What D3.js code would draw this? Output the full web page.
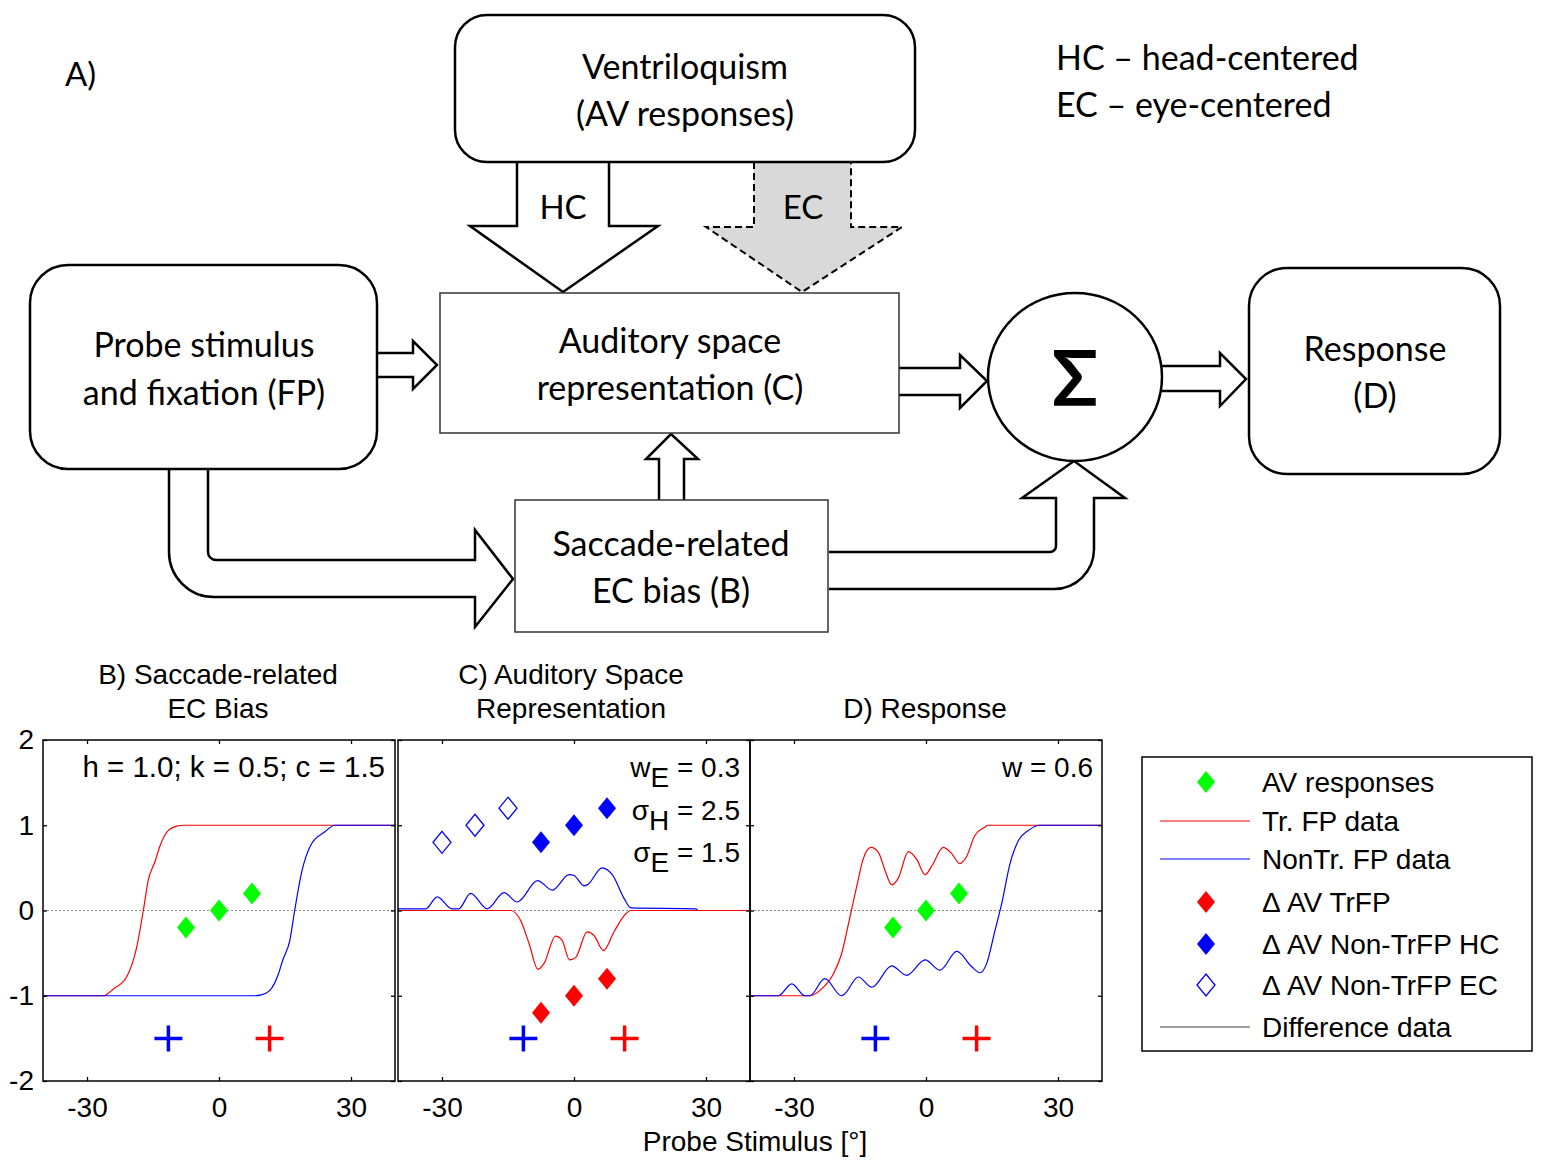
<!DOCTYPE html>
<html>
<head>
<meta charset="utf-8">
<script src="https://cdn.jsdelivr.net/npm/d3@7"></script>
<style>
  body { margin: 0; background: #fff; }
</style>
</head>
<body>
<svg id="fig" width="1562" height="1171"></svg>
<script>
// ---- values ----
var xTicks = [-30, 0, 30];
var yTicks = [-2, -1, 0, 1, 2];

// AV responses (green), repeated in B and D
var avX = [-7.5, 0, 7.5];
var avY = [-0.2, 0, 0.2];

// Delta AV markers in panel C
var hcX = [-7.5, 0, 7.5];
var hcY = [0.8, 1.0, 1.2];
var ecX = [-30, -22.5, -15];
var ecY = [0.8, 1.0, 1.2];
var trX = [-7.5, 0, 7.5];
var trY = [-1.2, -1.0, -0.8];

// fixation points (plus signs)
var fixNonTrX = -11.5;
var fixTrX = 11.5;
var fixY = -1.5;

// B) saccade-related EC bias
var biasTr = [[-40,-1],[-26.3,-1],[-24,-0.92],[-21,-0.78],[-18.7,-0.43],[-17.2,0],[-16.1,0.35],
  [-14.5,0.58],[-13.4,0.76],[-11.5,0.94],[-9.6,0.99],[-8.1,1],[40,1]];
var biasNonTr = [[-40,-1],[8.1,-1],[9.6,-0.99],[11.5,-0.94],[13.4,-0.76],[14.5,-0.58],[16.1,-0.35],
  [17.2,0],[18.7,0.43],[21,0.78],[24,0.92],[26.3,1],[40,1]];

// C) auditory space representation
var repNonTr = [[-40,0.02],[-33.7,0.02],[-31.1,0.16],[-27.7,0.02],[-26.2,0.02],[-23.5,0.2],[-19.7,0.02],
  [-15.9,0.21],[-12.9,0.1],[-12.2,0.12],[-8.3,0.35],[-4.9,0.24],[-1.1,0.42],[0,0.41],[2.3,0.29],
  [3,0.3],[6.4,0.5],[8.7,0.42],[11.4,0.14],[12.9,0.03],[27.7,0.02],[28.2,0],[40,0]];
var repTr = [[-40,0],[-14.4,0],[-12.1,-0.12],[-10.2,-0.39],[-8.2,-0.69],[-6.8,-0.62],[-4.2,-0.3],
  [-2.7,-0.35],[-1,-0.58],[0.4,-0.55],[3,-0.25],[4.5,-0.29],[6.7,-0.47],[9.1,-0.25],[11.4,-0.06],
  [12.9,0],[40,0]];

// D) response
var respTr = [[-40,-1],[-26.4,-1],[-23.7,-0.92],[-21,-0.74],[-19.2,-0.51],[-17.3,-0.08],[-15.8,0.27],
  [-14.3,0.6],[-12.5,0.74],[-10.8,0.68],[-9.3,0.47],[-7.8,0.3],[-6.3,0.38],[-4,0.69],[-2.1,0.6],
  [-0.2,0.42],[1.3,0.52],[3.9,0.74],[5.8,0.67],[7.7,0.55],[9.2,0.63],[11.1,0.88],[13.4,0.98],
  [14,1],[40,1]];
var respNonTr = [[-40,-1],[-33.6,-1],[-30.5,-0.86],[-27.5,-1],[-26.4,-1],[-23,-0.8],[-19.2,-1],
  [-18.5,-0.98],[-15.4,-0.78],[-12.3,-0.9],[-7.8,-0.65],[-4.4,-0.76],[-0.2,-0.58],[3.2,-0.7],
  [7,-0.48],[10.4,-0.66],[12.3,-0.73],[13.8,-0.62],[15.7,-0.23],[17.2,0.08],[19.1,0.55],[21,0.82],
  [23.3,0.94],[25.9,1],[40,1]];

var legendLabels = ["AV responses", "Tr. FP data", "NonTr. FP data", "\u0394 AV TrFP",
  "\u0394 AV Non-TrFP HC", "\u0394 AV Non-TrFP EC", "Difference data"];

// ---- drawing ----
var svg = d3.select("#fig");
var diagFont = "Lato, 'Open Sans', sans-serif";
var plotFont = "'Liberation Sans', Arial, sans-serif";

function addText(g, x, y, str, size, anchor, family) {
    return g.append("text")
        .attr("x", x).attr("y", y)
        .attr("font-family", family || diagFont)
        .attr("font-size", size)
        .attr("text-anchor", anchor || "middle")
        .attr("fill", "#000")
        .text(str);
}

// ===== A) block diagram =====
var diag = svg.append("g");

// block arrows first, boxes go over their open ends
var arrowStyle = function(sel) {
    return sel.attr("fill", "#fff").attr("stroke", "#000")
        .attr("stroke-width", 2.5).attr("stroke-linejoin", "miter");
};

// probe -> saccade bias (bent)
diag.append("path").call(arrowStyle)
    .attr("d", "M169,468 L169,552 A45,45 0 0 0 214,597 L475,597 L475,627 L513,579 L475,530 L475,560 " +
               "L216,560 A8,8 0 0 1 208,552 L208,468");
// saccade bias -> sum (bent)
diag.append("path").call(arrowStyle)
    .attr("d", "M829,552 L1050,552 A6,6 0 0 0 1056,546 L1056,498 L1022,498 L1074,461 L1125,498 " +
               "L1094,498 L1094,549 A40,40 0 0 1 1054,589 L829,589");
// probe -> auditory space
diag.append("path").call(arrowStyle)
    .attr("d", "M377,353 L413,353 L413,341 L437,365 L413,389 L413,377 L377,377");
// auditory space -> sum
diag.append("path").call(arrowStyle)
    .attr("d", "M899,368 L960,368 L960,355 L987,381 L960,408 L960,395 L899,395");
// sum -> response
diag.append("path").call(arrowStyle)
    .attr("d", "M1162,366 L1220,366 L1220,353 L1246,379 L1220,406 L1220,391 L1162,391");
// saccade bias -> auditory space (up)
diag.append("path").call(arrowStyle)
    .attr("d", "M659,500 L659,459 L646,459 L671,434 L698,459 L684,459 L684,500");
// HC arrow
diag.append("path").call(arrowStyle)
    .attr("d", "M517,162 L517,226 L470,226 L563,292 L658,226 L609,226 L609,162");
// EC arrow, dashed and grey
diag.append("path")
    .attr("d", "M754,162 L754,227 L706,227 L802,292 L902,227 L851,227 L851,162")
    .attr("fill", "#d9d9d9").attr("stroke", "#000")
    .attr("stroke-width", 2).attr("stroke-dasharray", "7,4");

// rounded boxes
var roundBox = function(x, y, w, h, r) {
    diag.append("rect")
        .attr("x", x).attr("y", y).attr("width", w).attr("height", h)
        .attr("rx", r).attr("ry", r)
        .attr("fill", "#fff").attr("stroke", "#000").attr("stroke-width", 2.5);
};
roundBox(455, 15, 460, 147, 32);     // ventriloquism
roundBox(30, 265, 347, 204, 38);     // probe stimulus
roundBox(1249, 268, 251, 206, 38);   // response

// square boxes
var squareBox = function(x, y, w, h) {
    diag.append("rect")
        .attr("x", x).attr("y", y).attr("width", w).attr("height", h)
        .attr("fill", "#fff").attr("stroke", "#333").attr("stroke-width", 1.5);
};
squareBox(440, 293, 459, 140);  // auditory space
squareBox(515, 500, 313, 132);  // saccade bias

// summation node
diag.append("ellipse")
    .attr("cx", 1075).attr("cy", 377).attr("rx", 87).attr("ry", 84)
    .attr("fill", "#fff").attr("stroke", "#000").attr("stroke-width", 2.5);
addText(diag, 1075, 406, "\u03A3", 76).attr("font-weight", "bold");

// diagram texts
addText(diag, 65, 86, "A)", 33, "start");
addText(diag, 685, 79, "Ventriloquism", 34);
addText(diag, 685, 126, "(AV responses)", 34);
addText(diag, 563, 219, "HC", 33);
addText(diag, 803, 219, "EC", 33);
addText(diag, 1056, 70, "HC \u2013 head-centered", 34, "start");
addText(diag, 1056, 117, "EC \u2013 eye-centered", 34, "start");
addText(diag, 204, 357, "Probe stimulus", 34);
addText(diag, 204, 405, "and fixation (FP)", 34);
addText(diag, 670, 353, "Auditory space", 34);
addText(diag, 670, 400, "representation (C)", 34);
addText(diag, 671, 556, "Saccade-related", 34);
addText(diag, 671, 603, "EC bias (B)", 34);
addText(diag, 1375, 361, "Response", 34);
addText(diag, 1375, 408, "(D)", 34);

// ===== B-D) model panels =====
var panelTop = 740, panelBottom = 1081, panelW = 352;
var y = d3.scaleLinear().domain([-2, 2]).range([panelBottom, panelTop]);
var diamond = "M0,-11 L9,0 L0,11 L-9,0 Z";
var fs = 28;
var plainNum = function(d) { return String(d); };

var panels = [
    { left: 43,  title: ["B) Saccade-related", "EC Bias"], tx: 218,
      lines: [[biasTr, "#ff0000"], [biasNonTr, "#0000ff"]], av: true, yLabels: true },
    { left: 398, title: ["C) Auditory Space", "Representation"], tx: 571,
      lines: [[repNonTr, "#0000ff"], [repTr, "#ff0000"]], av: false, yLabels: false },
    { left: 750, title: ["", "D) Response"], tx: 925,
      lines: [[respTr, "#ff0000"], [respNonTr, "#0000ff"]], av: true, yLabels: false }
];

panels.forEach(function(p, idx) {
    var g = svg.append("g");
    var x = d3.scaleLinear().domain([-40, 40]).range([p.left, p.left + panelW]);

    // titles
    addText(g, p.tx, 684, p.title[0], fs, "middle", plotFont);
    addText(g, p.tx, 718, p.title[1], fs, "middle", plotFont);

    // zero reference line
    g.append("line")
        .attr("x1", x(-40)).attr("x2", x(40)).attr("y1", y(0)).attr("y2", y(0))
        .attr("stroke", "#808080").attr("stroke-width", 0.9).attr("stroke-dasharray", "2,2");

    // curves
    var line = d3.line().x(function(d) { return x(d[0]); }).y(function(d) { return y(d[1]); })
        .curve(d3.curveMonotoneX);
    p.lines.forEach(function(l) {
        g.append("path").datum(l[0]).attr("d", line)
            .attr("fill", "none").attr("stroke", l[1]).attr("stroke-width", 1.2);
    });

    // markers
    function diamonds(xs, ys, fill, stroke) {
        g.selectAll(null).data(xs).enter().append("path")
            .attr("d", diamond)
            .attr("transform", function(d, i) { return "translate(" + x(d) + "," + y(ys[i]) + ")"; })
            .attr("fill", fill).attr("stroke", stroke).attr("stroke-width", 1.3);
    }
    if (p.av) diamonds(avX, avY, "#00ff00", "none");
    if (idx === 1) {
        diamonds(ecX, ecY, "#fff", "#0000ff");
        diamonds(hcX, hcY, "#0000ff", "none");
        diamonds(trX, trY, "#ff0000", "none");
    }
    [[fixNonTrX, "#0000ff"], [fixTrX, "#ff0000"]].forEach(function(f) {
        var cx = x(f[0]), cy = y(fixY);
        g.append("path")
            .attr("d", "M" + (cx - 14) + "," + cy + " L" + (cx + 14) + "," + cy +
                       " M" + cx + "," + (cy - 13) + " L" + cx + "," + (cy + 13))
            .attr("stroke", f[1]).attr("stroke-width", 3.5).attr("fill", "none");
    });

    // axes with inward ticks
    var axB = d3.axisBottom(x).tickValues(xTicks).tickSizeInner(-4).tickSizeOuter(0)
        .tickPadding(16).tickFormat(plainNum);
    var axT = d3.axisTop(x).tickValues(xTicks).tickSizeInner(-4).tickSizeOuter(0).tickFormat("");
    var axL = d3.axisLeft(y).tickValues(yTicks).tickSizeInner(-4).tickSizeOuter(0)
        .tickPadding(9).tickFormat(p.yLabels ? plainNum : "");
    var axR = d3.axisRight(y).tickValues(yTicks).tickSizeInner(-4).tickSizeOuter(0).tickFormat("");

    [[axB, "translate(0," + panelBottom + ")"], [axT, "translate(0," + panelTop + ")"],
     [axL, "translate(" + p.left + ",0)"], [axR, "translate(" + (p.left + panelW) + ",0)"]]
    .forEach(function(a) {
        var ag = g.append("g").attr("transform", a[1]).call(a[0]);
        ag.select(".domain").remove();
        ag.selectAll(".tick line").attr("stroke", "#000").attr("stroke-width", 1.3);
        ag.selectAll(".tick text").attr("font-family", plotFont).attr("font-size", fs).attr("fill", "#000");
    });

    // frame
    g.append("rect")
        .attr("x", p.left).attr("y", panelTop).attr("width", panelW).attr("height", panelBottom - panelTop)
        .attr("fill", "none").attr("stroke", "#000").attr("stroke-width", 1.5);
});

// parameter notes
var notes = svg.append("g").attr("font-family", plotFont).attr("font-size", fs).attr("fill", "#000");
notes.append("text").attr("x", 385).attr("y", 777).attr("text-anchor", "end")
    .attr("font-size", 29.5).text("h = 1.0; k = 0.5; c = 1.5");
notes.append("text").attr("x", 1093).attr("y", 777).attr("text-anchor", "end").text("w = 0.6");
[["w", "E", " = 0.3", 777], ["\u03C3", "H", " = 2.5", 820], ["\u03C3", "E", " = 1.5", 862]].forEach(function(n) {
    var t = notes.append("text").attr("x", 740).attr("y", n[3]).attr("text-anchor", "end");
    t.append("tspan").text(n[0]);
    t.append("tspan").attr("dy", 10).text(n[1]);
    t.append("tspan").attr("dy", -10).text(n[2]);
});

// x axis label
addText(svg, 755, 1151, "Probe Stimulus [\u00B0]", fs, "middle", plotFont);

// ===== legend =====
var lg = svg.append("g");
lg.append("rect").attr("x", 1142).attr("y", 757).attr("width", 390).attr("height", 294)
    .attr("fill", "#fff").attr("stroke", "#000").attr("stroke-width", 1.5);
var rowY = [782, 821, 859, 902, 944, 985, 1027];
var swatch = [
    { kind: "d", fill: "#00ff00", stroke: "none" },
    { kind: "l", stroke: "#ff0000" },
    { kind: "l", stroke: "#0000ff" },
    { kind: "d", fill: "#ff0000", stroke: "none" },
    { kind: "d", fill: "#0000ff", stroke: "none" },
    { kind: "d", fill: "#fff", stroke: "#0000ff" },
    { kind: "l", stroke: "#404040" }
];
legendLabels.forEach(function(lbl, i) {
    var s = swatch[i], cy = rowY[i];
    if (s.kind === "d") {
        lg.append("path").attr("d", diamond)
            .attr("transform", "translate(1206," + cy + ")")
            .attr("fill", s.fill).attr("stroke", s.stroke).attr("stroke-width", 1.3);
    } else {
        lg.append("line").attr("x1", 1160).attr("x2", 1250).attr("y1", cy).attr("y2", cy)
            .attr("stroke", s.stroke).attr("stroke-width", 1.2);
    }
    addText(lg, 1262, cy + 10, lbl, fs, "start", plotFont);
});
</script>
</body>
</html>
